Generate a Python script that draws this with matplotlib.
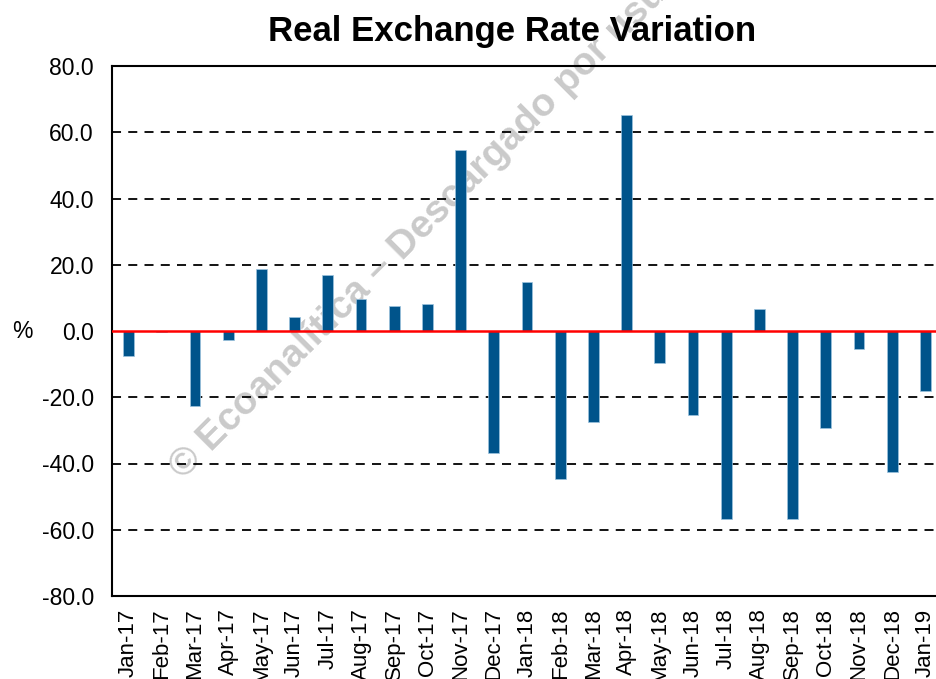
import numpy as np
import matplotlib
matplotlib.use("Agg")
import matplotlib.pyplot as plt

plt.rcParams["font.family"] = ["Liberation Sans", "DejaVu Sans"]

# ---- datos ----
months = ["Jan-17", "Feb-17", "Mar-17", "Apr-17", "May-17", "Jun-17", "Jul-17",
          "Aug-17", "Sep-17", "Oct-17", "Nov-17", "Dec-17", "Jan-18", "Feb-18",
          "Mar-18", "Apr-18", "May-18", "Jun-18", "Jul-18", "Aug-18", "Sep-18",
          "Oct-18", "Nov-18", "Dec-18", "Jan-19"]
variation = [-7.6, -0.3, -22.5, -2.6, 18.7, 4.1, 17.0, 9.8, 7.5, 8.1, 54.6,
             -36.9, 14.7, -44.7, -27.5, 65.3, -9.7, -25.3, -56.9, 6.5, -56.9,
             -29.2, -5.3, -42.5, -18.0]
yticks = [-80, -60, -40, -20, 0, 20, 40, 60, 80]

W, H = 937, 679
fig = plt.figure(figsize=(W / 100, H / 100), dpi=100)
ax = fig.add_axes([112 / W, 1 - 596 / H, 830 / W, 530 / H])

x = np.arange(len(months))
ax.bar(x, variation, width=0.32, color="#00548B", edgecolor="#9CC3DE",
       linewidth=0.5, zorder=3)

ax.set_xlim(-0.5, len(months) - 0.5)
ax.set_ylim(-80, 80)
ax.set_yticks(yticks)
ax.set_yticklabels([f"{v:.1f}" for v in yticks], fontsize=16.5)
ax.set_xticks(x)
ax.set_xticklabels(months, rotation=90, fontsize=16)
ax.tick_params(axis="y", length=0, pad=13)
ax.tick_params(axis="x", length=0, pad=9)

for v in yticks:
    if v in (-80, 0, 80):
        continue
    ax.axhline(v, color="black", ls=(0, (5, 4)), lw=1.3, zorder=2)
ax.axhline(0, color="#FF0000", lw=1.8, zorder=4)

for s in ("top", "bottom", "left"):
    ax.spines[s].set_linewidth(1.5)
ax.spines["right"].set_visible(False)

ax.set_ylabel("%", fontsize=16.5, rotation=0, va="center", ha="center")
ax.yaxis.set_label_coords(-90 / 830, 0.5)

fig.text(512 / W, 1 - 31 / H, "Real Exchange Rate Variation", fontsize=25,
         fontweight="bold", ha="center", va="center")

# marca de agua, detrás de las barras
ax.text(176 / W, 1 - 473 / H, "© Ecoanalítica – Descargado por usuario",
        transform=fig.transFigure, fontsize=28, fontweight="bold",
        color="#CACACA", rotation=45, rotation_mode="anchor",
        ha="left", va="center", zorder=1, clip_on=False)

fig.savefig("out.png", dpi=100)
